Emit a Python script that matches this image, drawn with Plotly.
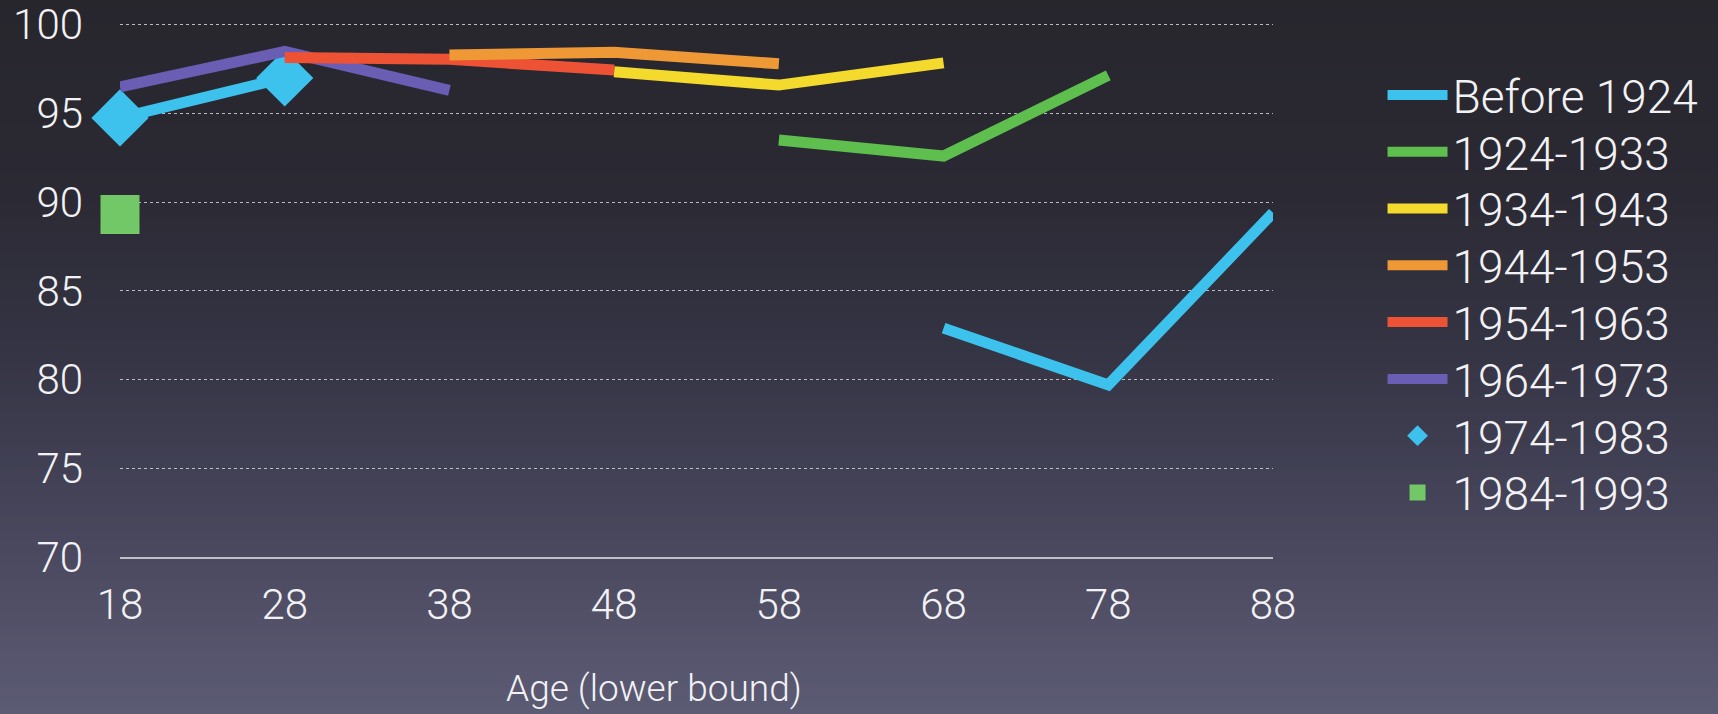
import plotly.graph_objects as go

# Age bands (lower bound of each 10-year bracket)
ages = [18, 28, 38, 48, 58, 68, 78, 88]

# Percentage values per birth cohort, by age band
before_1924 = [82.9, 79.7, 89.4]        # ages 68, 78, 88
cohort_1924_1933 = [93.5, 92.6, 97.15]   # ages 58, 68, 78
cohort_1934_1943 = [97.35, 96.6, 97.85]  # ages 48, 58, 68
cohort_1944_1953 = [98.3, 98.45, 97.8]   # ages 38, 48, 58
cohort_1954_1963 = [98.15, 98.05, 97.45] # ages 28, 38, 48
cohort_1964_1973 = [96.5, 98.5, 96.3]    # ages 18, 28, 38
cohort_1974_1983 = [94.75, 97.0]         # ages 18, 28
cohort_1984_1993 = [89.3]                # age 18

y_ticks = [70, 75, 80, 85, 90, 95, 100]

# Legend entries, top to bottom
legend_names = ["Before 1924", "1924-1933", "1934-1943", "1944-1953",
                "1954-1963", "1964-1973", "1974-1983", "1984-1993"]

W, H = 1718, 714
M_L, M_R, M_T, M_B = 120, 445, 23, 157
PLOT_H = H - M_T - M_B
FONT = "Roboto, Inter, Liberation Sans, sans-serif"
TXT = "#f2f2f4"

CYAN = "#3dc2ee"
colors = {
    "Before 1924": CYAN, "1924-1933": "#5ebf4f", "1934-1943": "#f3da2d",
    "1944-1953": "#ef9936", "1954-1963": "#ec5233", "1964-1973": "#6a5db4",
    "1974-1983": CYAN, "1984-1993": "#72c867",
}


def legend_ref(name):
    k = legend_names.index(name)
    return "legend" if k == 0 else "legend%d" % (k + 1)


fig = go.Figure()


def line(name, start, vals, width=11):
    fig.add_trace(go.Scatter(
        x=ages[start:start + len(vals)], y=vals, name=name, mode="lines",
        line=dict(color=colors[name], width=width), cliponaxis=False,
        legend=legend_ref(name),
    ))


# 1974-1983: connecting line plus large diamonds
fig.add_trace(go.Scatter(
    x=ages[0:2], y=cohort_1974_1983, mode="lines", showlegend=False,
    line=dict(color=CYAN, width=11), cliponaxis=False, hoverinfo="skip",
))
fig.add_trace(go.Scatter(
    x=ages[0:2], y=cohort_1974_1983, mode="markers", name="1974-1983",
    marker=dict(symbol="diamond", size=44, color=CYAN),
    cliponaxis=False, legend=legend_ref("1974-1983"),
))
line("1964-1973", 0, cohort_1964_1973)
line("1954-1963", 1, cohort_1954_1963)
line("1944-1953", 2, cohort_1944_1953)
line("1934-1943", 3, cohort_1934_1943)
line("1924-1933", 4, cohort_1924_1933)
line("Before 1924", 5, before_1924)
fig.add_trace(go.Scatter(
    x=ages[0:1], y=cohort_1984_1993, mode="markers", name="1984-1993",
    marker=dict(symbol="square", size=39, color=colors["1984-1993"]),
    cliponaxis=False, legend=legend_ref("1984-1993"),
))

# Vertical background gradient built from thin horizontal bands
stops = [(0, (39, 38, 45)), (200, (43, 42, 52)), (350, (53, 52, 68)),
         (500, (68, 67, 88)), (714, (92, 91, 116))]
shapes = []
band = 6
for p in range(0, H, band):
    mid = p + band / 2
    for (p0, c0), (p1, c1) in zip(stops[:-1], stops[1:]):
        if p0 <= mid <= p1:
            t = (mid - p0) / (p1 - p0)
            c = tuple(round(a + (b - a) * t) for a, b in zip(c0, c1))
            break
    shapes.append(dict(
        type="rect", xref="paper", yref="paper", layer="below",
        x0=-1, x1=2,
        y0=(H - M_B - (p + band + 1)) / PLOT_H, y1=(H - M_B - p + 1) / PLOT_H,
        line=dict(width=0), fillcolor="rgb(%d,%d,%d)" % c,
    ))

# One single-entry legend per cohort so rows sit on an even 57px pitch
legends = {}
ROW0, ROW_STEP = 95, 56.8
for k, name in enumerate(legend_names):
    centre_px = ROW0 + k * ROW_STEP
    legends[legend_ref(name)] = dict(
        x=1.095, xanchor="left",
        y=(H - M_B - centre_px) / PLOT_H, yanchor="middle",
        font=dict(family=FONT, size=46, color=TXT, weight=300),
        bgcolor="rgba(0,0,0,0)", borderwidth=0, itemwidth=60,
    )

fig.update_layout(
    template="none",
    width=W, height=H,
    margin=dict(l=M_L, r=M_R, t=M_T, b=M_B, autoexpand=False),
    paper_bgcolor="rgb(50,49,62)",
    plot_bgcolor="rgba(0,0,0,0)",
    font=dict(family=FONT, color=TXT, weight=300),
    shapes=shapes,
    showlegend=True,
    xaxis=dict(
        range=[18, 88], tickvals=ages, showgrid=False, zeroline=False,
        automargin=False,
        showline=True, linecolor="rgba(205,205,212,0.9)", linewidth=1.5,
        ticks="", ticklabelstandoff=10,
        tickfont=dict(family=FONT, size=42, color=TXT, weight=300),
    ),
    yaxis=dict(
        range=[70, 100.1], tickvals=y_ticks, zeroline=False, automargin=False,
        showgrid=True, gridcolor="rgba(212,212,220,0.85)", gridwidth=1,
        griddash="3px,3px", ticks="", ticklabelstandoff=36, showline=False,
        tickfont=dict(family=FONT, size=42, color=TXT, weight=300),
    ),
    annotations=[dict(
        text="Age (lower bound)", xref="paper", yref="paper",
        x=(654 - M_L) / (W - M_L - M_R), y=(H - M_B - 688) / PLOT_H,
        xanchor="center", yanchor="middle", showarrow=False,
        font=dict(family=FONT, size=37, color=TXT, weight=300),
    )],
    **legends,
)

fig.write_html("out.html")
